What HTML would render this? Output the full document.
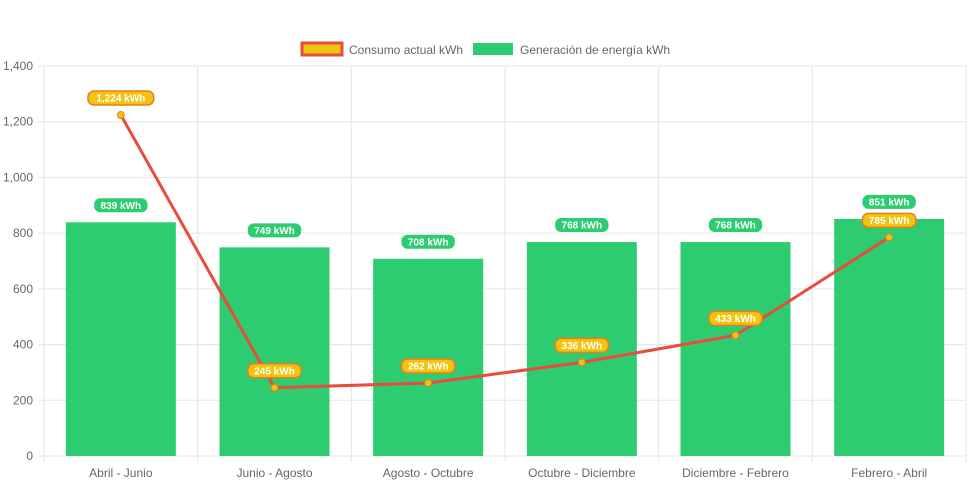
<!DOCTYPE html>
<html><head><meta charset="utf-8"><style>
html,body{margin:0;padding:0;background:#fff;}
svg{display:block;font-family:"Liberation Sans",Arial,sans-serif;}
</style></head><body>
<svg id="chart" width="971" height="485"></svg>
<script>
const categories=["Abril - Junio","Junio - Agosto","Agosto - Octubre","Octubre - Diciembre","Diciembre - Febrero","Febrero - Abril"];
const generation=[839,749,708,768,768,851];
const consumption=[1224,245,262,336,433,785];
const yTicks=[0,200,400,600,800,1000,1200,1400];
const yTickLabels=["0","200","400","600","800","1,000","1,200","1,400"];
const NS="http://www.w3.org/2000/svg";
const svg=document.getElementById('chart');
const L=44,R=966,T=66,B=456,yMax=1400;
const bw=(R-L)/categories.length;
function x(i){return L+bw*(i+0.5);}
function y(v){return B-(v/yMax)*(B-T);}
function mk(tag,attrs,parent){const e=document.createElementNS(NS,tag);for(const k in attrs)e.setAttribute(k,attrs[k]);(parent||svg).appendChild(e);return e;}
// grid
yTicks.forEach((t,i)=>{
 const g=mk('line',{x1:38,x2:R,y1:y(t),y2:y(t),stroke:'#e5e5e5','stroke-width':1});
 
 
 const tx=mk('text',{x:33,y:y(t)+4,'text-anchor':'end','font-size':12,fill:'#666'});
 tx.textContent=yTickLabels[i];
 
 
});
for(let i=0;i<=categories.length;i++){
 const gx=L+bw*i;
 const g=mk('line',{x1:gx,x2:gx,y1:T,y2:B+6,stroke:'#e5e5e5','stroke-width':1});
 
 
}
categories.forEach((c,i)=>{
 const tx=mk('text',{x:x(i),y:477,'text-anchor':'middle','font-size':12,fill:'#666'});
 tx.textContent=c;
 
 
});
// bars
const barW=110;
generation.forEach((v,i)=>{
 const r=mk('rect',{x:x(i)-barW/2,y:y(v),width:barW,height:B-y(v),fill:'#2ecc71'});
 
 
});
// line
const pts=consumption.map((v,i)=>x(i)+','+y(v)).join(' ');
const pl=mk('polyline',{points:pts,fill:'none',stroke:'#e74c3c','stroke-width':3});


consumption.forEach((v,i)=>{
 const c=mk('circle',{cx:x(i),cy:y(v),r:3.5,fill:'#f1c40f',stroke:'#e67e22','stroke-width':1});
 
 
});
function label(cx,cy,txt,fill,stroke,name){
 const w=txt.length*6.2+10,h=14;
 const r=mk('rect',{x:cx-w/2,y:cy-h/2,width:w,height:h,rx:6,fill:fill,stroke:stroke,'stroke-width':stroke==='none'?0:1.5});
 
 
 const t=mk('text',{x:cx,y:cy+3.5,'text-anchor':'middle','font-size':10,'font-weight':'bold',fill:'#fff'});
 t.textContent=txt;
 
 
}
generation.forEach((v,i)=>label(x(i),y(v)-17,v.toLocaleString('en-US')+' kWh','#2ecc71','none','generation-value-label'));
consumption.forEach((v,i)=>label(x(i),y(v)-17,v.toLocaleString('en-US')+' kWh','#f1c40f','#e67e22','consumption-value-label'));
// legend
const lg=mk('g',{});


const s1=mk('rect',{x:302,y:43,width:40,height:12,fill:'#f1c40f',stroke:'#e74c3c','stroke-width':3},lg);


const t1=mk('text',{x:349,y:54,'font-size':12,fill:'#666'},lg);
t1.textContent='Consumo actual kWh';


const s2=mk('rect',{x:473,y:43,width:40,height:12,fill:'#2ecc71'},lg);


const t2=mk('text',{x:520,y:54,'font-size':12,fill:'#666'},lg);
t2.textContent='Generación de energía kWh';


</script>
</body></html>
